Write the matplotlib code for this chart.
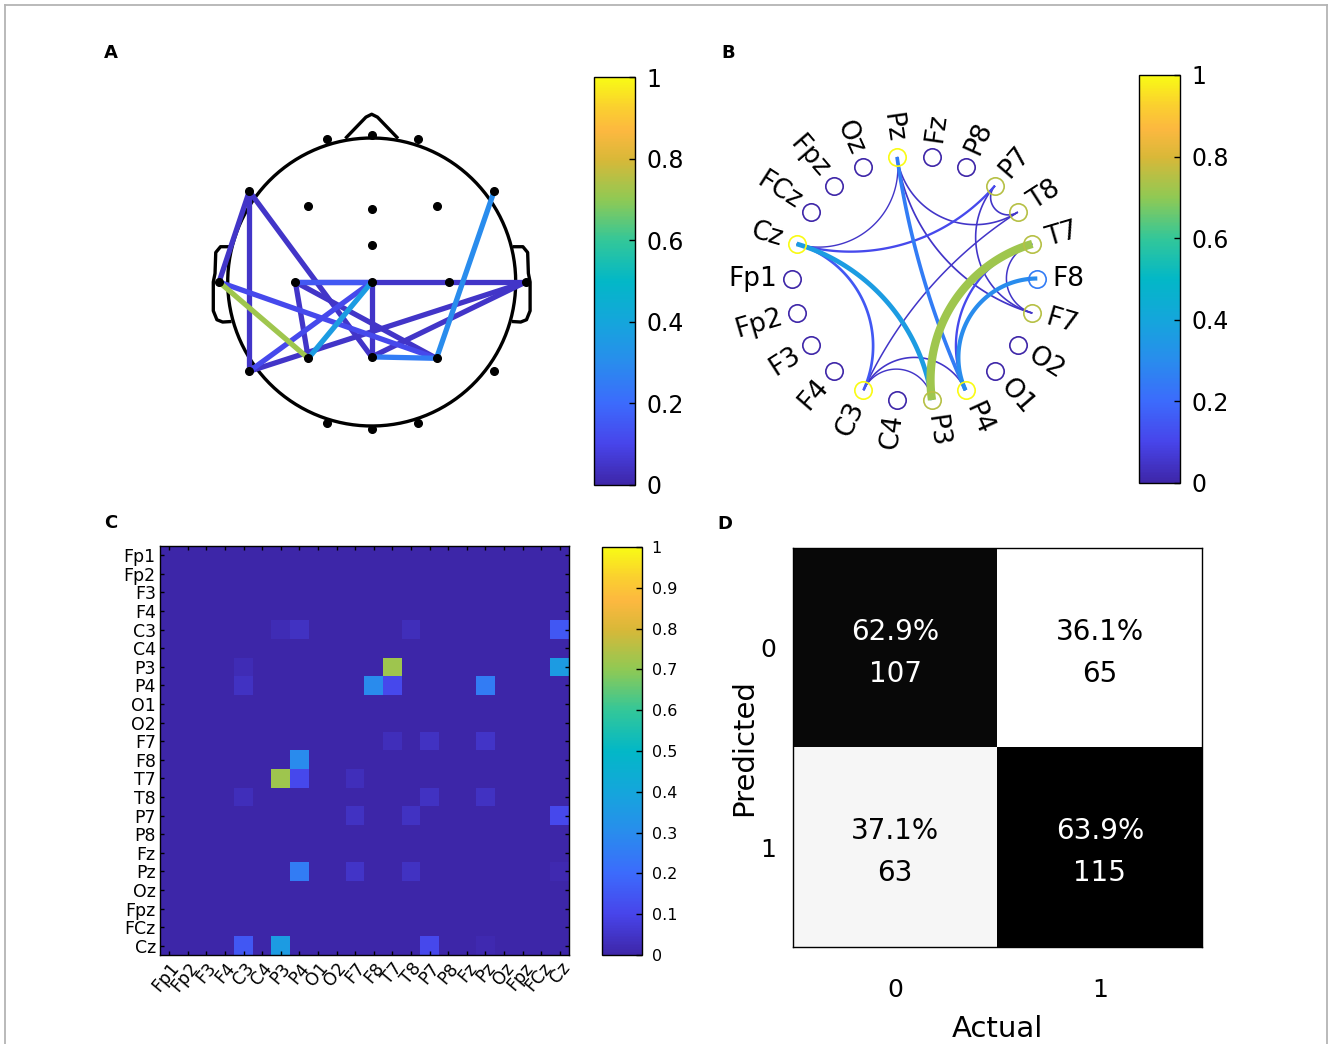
import numpy as np
import matplotlib
matplotlib.use('Agg')
import matplotlib.pyplot as plt
from matplotlib.colors import LinearSegmentedColormap, Normalize
from matplotlib.cm import ScalarMappable
from matplotlib.lines import Line2D

plt.rcParams['font.family'] = ['DejaVu Sans']

# ---------------- data ----------------
channels = ['Fp1', 'Fp2', 'F3', 'F4', 'C3', 'C4', 'P3', 'P4', 'O1', 'O2', 'F7', 'F8',
            'T7', 'T8', 'P7', 'P8', 'Fz', 'Pz', 'Oz', 'Fpz', 'FCz', 'Cz']

edge_a = ['C3', 'C3', 'C3', 'C3', 'P3', 'P3', 'P4', 'P4', 'P4', 'F7', 'F7', 'F7', 'T8', 'T8', 'P7', 'Pz']
edge_b = ['P3', 'P4', 'T8', 'Cz', 'T7', 'Cz', 'F8', 'T7', 'Pz', 'T7', 'P7', 'Pz', 'P7', 'Pz', 'Cz', 'Cz']
edge_w = [0.02, 0.04, 0.03, 0.15, 0.72, 0.36, 0.30, 0.11, 0.25, 0.03, 0.04, 0.05, 0.04, 0.04, 0.11, 0.015]

# 2-D scalp layout of the electrodes (head radius = 1), same order as channels
elec_x = [-0.31, 0.32, -0.44, 0.45, -0.53, 0.54, -0.44, 0.45, -0.31, 0.32, -0.85, 0.85,
          -1.06, 1.07, -0.85, 0.85, 0.0, 0.0, 0.0, 0.0, 0.0, 0.0]
elec_y = [0.99, 0.99, 0.53, 0.53, 0.0, 0.0, -0.53, -0.53, -0.98, -0.98, 0.63, 0.63,
          0.0, 0.0, -0.62, -0.62, 0.51, -0.52, -1.02, 1.02, 0.26, 0.0]

conf_pct = [[62.9, 36.1], [37.1, 63.9]]
conf_n = [[107, 65], [63, 115]]
conf_labels = ['0', '1']

# ---------------- colormap (parula-like) ----------------
parula_pts = [
    (0.00, (0.243, 0.150, 0.660)),
    (0.10, (0.280, 0.270, 0.920)),
    (0.20, (0.235, 0.420, 0.990)),
    (0.30, (0.160, 0.550, 0.930)),
    (0.40, (0.080, 0.650, 0.860)),
    (0.50, (0.010, 0.720, 0.780)),
    (0.60, (0.200, 0.780, 0.600)),
    (0.70, (0.560, 0.790, 0.330)),
    (0.80, (0.850, 0.720, 0.220)),
    (0.87, (0.990, 0.720, 0.250)),
    (0.93, (0.980, 0.820, 0.180)),
    (1.00, (0.977, 0.984, 0.080)),
]
parula = LinearSegmentedColormap.from_list('parula', parula_pts, N=256)

n = len(channels)
idx = {c: i for i, c in enumerate(channels)}
M = np.zeros((n, n))
for a, b, w in zip(edge_a, edge_b, edge_w):
    M[idx[a], idx[b]] = w
    M[idx[b], idx[a]] = w

W, H = 1328, 1044
fig = plt.figure(figsize=(W / 100, H / 100), dpi=100)


def px_axes(x0, y0, x1, y1):
    return fig.add_axes([x0 / W, 1 - y1 / H, (x1 - x0) / W, (y1 - y0) / H])


def style_cbar(cax, ticks, labels, size, pad):
    cb = fig.colorbar(ScalarMappable(norm=Normalize(0, 1), cmap=parula), cax=cax)
    cb.set_ticks(ticks)
    cb.set_ticklabels(labels)
    cb.outline.set_linewidth(1.0)
    cax.tick_params(direction='in', length=4, width=1, labelsize=size, pad=pad)
    return cb


def fmt(v):
    s = f'{v:.1f}'
    return s.rstrip('0').rstrip('.') if '.' in s else s


# frame around the figure (bottom edge falls outside the picture)
for xs, ys in [([4.5, 4.5], [0, 4.5]), ([4.5, 1327], [4.5, 4.5]), ([1327, 1327], [4.5, 1044])]:
    pass
fig.add_artist(Line2D([4.5 / W, 4.5 / W], [0, 1 - 4.5 / H], color='#b4b4b4', lw=1.3, transform=fig.transFigure))
fig.add_artist(Line2D([4.5 / W, 1327 / W], [1 - 4.5 / H, 1 - 4.5 / H], color='#b4b4b4', lw=1.3, transform=fig.transFigure))
fig.add_artist(Line2D([1327 / W, 1327 / W], [0, 1 - 4.5 / H], color='#b4b4b4', lw=1.3, transform=fig.transFigure))

# panel letters
for lab, x, y in [('A', 111, 53), ('B', 728, 53), ('C', 111, 523), ('D', 725, 524)]:
    fig.text(x / W, 1 - y / H, lab, fontsize=13, fontweight='bold', ha='center', va='center')

# ---------------- Panel A : topographic connectivity ----------------
cx, cy, r = 371.7, 282.0, 144.0
axA = px_axes(200, 100, 545, 445)
axA.set_xlim((200 - cx) / r, (545 - cx) / r)
axA.set_ylim((cy - 445) / r, (cy - 100) / r)
axA.axis('off')
t = np.linspace(0, 2 * np.pi, 400)
axA.plot(np.cos(t), np.sin(t), color='k', lw=2.4)
axA.plot([-0.175, -0.04, 0, 0.04, 0.175], [1.005, 1.145, 1.165, 1.145, 1.005], color='k', lw=2.4,
         solid_joinstyle='round')
ear_x = np.array([-0.99, -1.05, -1.083, -1.088, -1.10, -1.10, -1.075, -1.035, -0.985])
ear_y = np.array([0.245, 0.245, 0.205, 0.06, 0.0, -0.2, -0.262, -0.278, -0.275])
axA.plot(ear_x, ear_y, color='k', lw=2.4, solid_joinstyle='round')
axA.plot(-ear_x, ear_y, color='k', lw=2.4, solid_joinstyle='round')
order = np.argsort(edge_w)
for k in order:
    i, j = idx[edge_a[k]], idx[edge_b[k]]
    axA.plot([elec_x[i], elec_x[j]], [elec_y[i], elec_y[j]], color=parula(max(edge_w[k], 0.05)),
             lw=3.8, solid_capstyle='butt', zorder=2)
axA.plot(elec_x, elec_y, 'o', color='k', ms=5.5, zorder=3)

caxA = px_axes(594, 77, 635, 485)
tk = [0, 0.2, 0.4, 0.6, 0.8, 1.0]
style_cbar(caxA, tk, [fmt(v) for v in tk], 17, 8)

# ---------------- Panel B : circular graph ----------------
bcx, bcy, br = 914.5, 278.5, 122.8
axB = px_axes(bcx - 220, bcy - 220, bcx + 220, bcy + 220)
lim = 220 / br
axB.set_xlim(-lim, lim)
axB.set_ylim(-lim, lim)
axB.axis('off')
theta = np.pi + np.arange(n) * 2 * np.pi / n
px = np.cos(theta)
py = np.sin(theta)


def arc(i, j):
    a, b = theta[i], theta[j]
    d = (b - a + np.pi) % (2 * np.pi) - np.pi
    if abs(abs(d) - np.pi) < 0.12:
        return np.array([px[i], px[j]]), np.array([py[i], py[j]])
    m = a + d / 2
    c = np.array([np.cos(m), np.sin(m)]) / np.cos(d / 2)
    pa = np.arctan2(py[i] - c[1], px[i] - c[0])
    pb = np.arctan2(py[j] - c[1], px[j] - c[0])
    dd = (pb - pa + np.pi) % (2 * np.pi) - np.pi
    ph = pa + np.linspace(0, 1, 100) * dd
    rr = abs(np.tan(d / 2))
    return c[0] + rr * np.cos(ph), c[1] + rr * np.sin(ph)


for k in order:
    i, j = idx[edge_a[k]], idx[edge_b[k]]
    xs, ys = arc(i, j)
    axB.plot(xs, ys, color=parula(max(edge_w[k], 0.05)), lw=0.9 + 7 * edge_w[k],
             solid_capstyle='butt', zorder=2)

deg = (M > 0).sum(axis=1)
for i in range(n):
    axB.plot(px[i], py[i], 'o', mfc='none', mec=parula(deg[i] / deg.max()), ms=12.5, mew=1.2, zorder=3)
    ang = np.degrees(theta[i]) % 360
    lx, ly = 1.12 * np.cos(theta[i]), 1.12 * np.sin(theta[i])
    if 90 < ang < 270:
        axB.text(lx, ly, channels[i], rotation=ang - 180, ha='right', va='center',
                 rotation_mode='anchor', fontsize=19)
    else:
        rot = ang if ang <= 90 else ang - 360
        axB.text(lx, ly, channels[i], rotation=rot, ha='left', va='center',
                 rotation_mode='anchor', fontsize=19)

caxB = px_axes(1139, 75, 1180, 483)
style_cbar(caxB, tk, [fmt(v) for v in tk], 17, 8)

# ---------------- Panel C : connectivity matrix ----------------
axC = px_axes(160, 546, 569, 955)
axC.imshow(M, cmap=parula, vmin=0, vmax=1, aspect='auto', interpolation='nearest')
axC.set_xticks(range(n))
axC.set_yticks(range(n))
axC.set_xticklabels(channels, rotation=50, ha='right', va='top', rotation_mode='anchor', fontsize=12.5)
axC.set_yticklabels(channels, fontsize=12.5)
axC.tick_params(direction='in', length=3, width=1, top=True, right=True, pad=3)
for s in axC.spines.values():
    s.set_linewidth(1.0)

caxC = px_axes(602, 547, 642, 955)
tkc = [round(0.1 * v, 1) for v in range(11)]
style_cbar(caxC, tkc, [fmt(v) for v in tkc], 11.5, 7)

# ---------------- Panel D : confusion matrix ----------------
axD = px_axes(793, 548, 1202, 947)
P = np.array(conf_pct)
axD.imshow(P, cmap='gray_r', vmin=P.min(), vmax=P.max(), aspect='auto')
for i in range(2):
    for j in range(2):
        col = 'white' if P[i, j] > 50 else 'black'
        axD.text(j, i - 0.08, f'{conf_pct[i][j]:.1f}%', ha='center', va='center', color=col, fontsize=20)
        axD.text(j, i + 0.13, f'{conf_n[i][j]}', ha='center', va='center', color=col, fontsize=20)
axD.set_xticks([0, 1])
axD.set_yticks([0, 1])
axD.set_xticklabels(conf_labels, fontsize=18)
axD.set_yticklabels(conf_labels, fontsize=18)
axD.tick_params(length=0)
axD.tick_params(axis='x', pad=22)
axD.tick_params(axis='y', pad=12)
axD.set_xlabel('Actual', fontsize=21, labelpad=10)
axD.set_ylabel('Predicted', fontsize=21, labelpad=2)
for s in axD.spines.values():
    s.set_linewidth(1.0)

fig.savefig('out.png', dpi=100)
